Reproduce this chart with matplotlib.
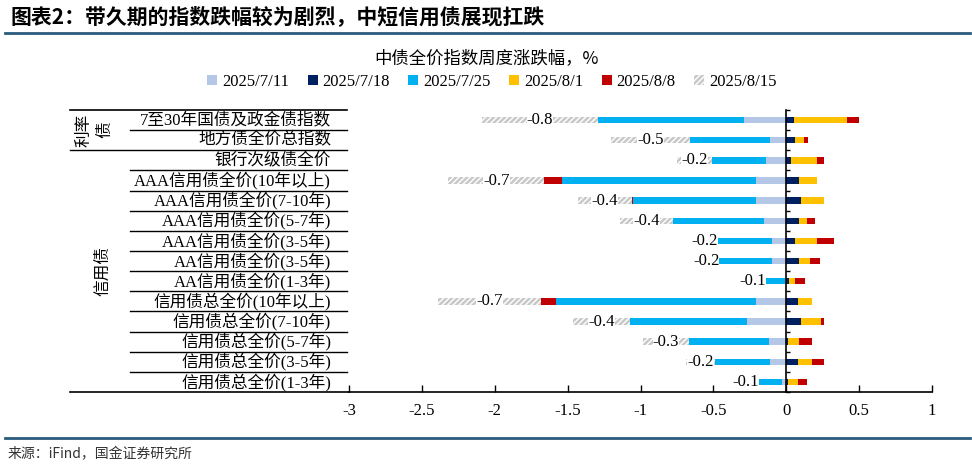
import matplotlib
matplotlib.use('Agg')
import matplotlib.pyplot as plt
import matplotlib.transforms as mtrans
import numpy as np

plt.rcParams['font.family'] = ['Liberation Serif', 'Noto Sans CJK SC']
plt.rcParams['axes.unicode_minus'] = False
plt.rcParams['hatch.linewidth'] = 1.8

# categories, top to bottom
cats = ['7至30年国债及政金债指数', '地方债全价总指数', '银行次级债全价',
        'AAA信用债全价(10年以上)', 'AAA信用债全价(7-10年)', 'AAA信用债全价(5-7年)',
        'AAA信用债全价(3-5年)', 'AA信用债全价(3-5年)', 'AA信用债全价(1-3年)',
        '信用债总全价(10年以上)', '信用债总全价(7-10年)', '信用债总全价(5-7年)',
        '信用债总全价(3-5年)', '信用债总全价(1-3年)']
groups = ['利率\n债', '信用债']
group_rows = [(0, 1), (2, 13)]

weeks = ['2025/7/11', '2025/7/18', '2025/7/25', '2025/8/1', '2025/8/8', '2025/8/15']
w0711 = [-0.29, -0.11, -0.14, -0.21, -0.21, -0.15, -0.10, -0.10, -0.01, -0.21, -0.27, -0.12, -0.11, -0.03]
w0718 = [0.05, 0.06, 0.03, 0.09, 0.10, 0.09, 0.06, 0.09, 0.02, 0.08, 0.10, 0.01, 0.08, 0.01]
w0725 = [-1.00, -0.55, -0.37, -1.33, -0.84, -0.63, -0.37, -0.36, -0.15, -1.37, -0.80, -0.55, -0.38, -0.21]
w0801 = [0.37, 0.06, 0.18, 0.12, 0.16, 0.05, 0.15, 0.07, 0.04, 0.10, 0.14, 0.08, 0.10, 0.07]
w0808 = [0.08, 0.03, 0.05, -0.12, -0.01, 0.06, 0.12, 0.07, 0.07, -0.10, 0.02, 0.09, 0.08, 0.06]
w0815 = [-0.80, -0.54, -0.24, -0.66, -0.37, -0.36, -0.18, -0.18, -0.14, -0.71, -0.39, -0.31, -0.20, -0.08]

series = [w0711, w0718, w0725, w0801, w0808, w0815]
colors = ['#B4C7E7', '#002060', '#00B0F0', '#FFC000', '#C00000', 'white']

fig = plt.figure(figsize=(9.72, 4.67), dpi=100)
W, H = 972, 467
ax = fig.add_axes([349 / W, 1 - 392 / H, 583 / W, 282 / H])

y = np.arange(len(cats))
pos = np.zeros(len(cats))
neg = np.zeros(len(cats))
bh = 0.32
for i, (vals, c, lab) in enumerate(zip(series, colors, weeks)):
    v = np.array(vals)
    left = np.where(v >= 0, pos, neg)
    if i == 5:
        # last week: hatched bars with value labels
        bars = ax.barh(y, v, left=left, height=bh, color='white', edgecolor='#C8C8C8',
                       hatch='//////', linewidth=0, label=lab)
        txts = ax.bar_label(bars, fmt='%.1f', label_type='center', fontsize=12)
        for t in txts:
            t.set_bbox(dict(facecolor='white', edgecolor='none', pad=0.1))
    else:
        ax.barh(y, v, left=left, height=bh, color=c, linewidth=0, label=lab)
    pos = pos + np.where(v >= 0, v, 0)
    neg = neg + np.where(v < 0, v, 0)

ax.set_xlim(-3, 1)
ax.set_ylim(len(cats) - 0.5, -0.5)
ax.set_xticks(np.arange(-3, 1.01, 0.5))
ax.set_xticklabels([f'{v:g}' for v in np.arange(-3, 1.01, 0.5)], fontsize=12)
ax.set_yticks(np.arange(-0.5, len(cats), 1))
ax.set_yticklabels([])
ax.tick_params(axis='x', direction='in', length=5, width=1, pad=8)
ax.tick_params(axis='y', direction='in', length=3, width=1)
ax.spines['left'].set_position(('data', 0))
ax.spines['top'].set_visible(False)
ax.spines['right'].set_visible(False)
ax.spines['left'].set_linewidth(1.2)
ax.spines['bottom'].set_linewidth(1.2)

# table on the left
tr = mtrans.blended_transform_factory(fig.transFigure, ax.transData)
for i, name in enumerate(cats):
    ax.text(331 / W, i, name, transform=tr, ha='right', va='center', fontsize=12)
for b in np.arange(0.5, len(cats) - 1, 1):
    x0 = 70 / W if b == 1.5 else 130 / W
    ax.plot([x0, 347 / W], [b, b], transform=tr, color='black', lw=1, clip_on=False)
ax.plot([70 / W, 347 / W], [-0.5, -0.5], transform=tr, color='black', lw=1.2, clip_on=False)
ax.plot([70 / W, 349 / W], [13.5, 13.5], transform=tr, color='black', lw=1.2, clip_on=False)
gx = [95 / W, 103 / W]
for g, (r0, r1), xg in zip(groups, group_rows, gx):
    ax.text(xg, (r0 + r1) / 2, g, transform=tr, rotation=90, ha='center', va='center',
            fontsize=12, linespacing=1.4, multialignment='center')

# titles, legend, source
fig.text(10 / W, 1 - 17 / H, '图表2：带久期的指数跌幅较为剧烈，中短信用债展现扛跌',
         fontsize=15, fontweight='bold', family=['Noto Sans CJK SC'], va='center')
fig.add_artist(plt.Line2D([5 / W, 970 / W], [1 - 33 / H, 1 - 33 / H], color='#2B5C7C', lw=2))
fig.add_artist(plt.Line2D([5 / W, 970 / W], [1 - 438 / H, 1 - 438 / H], color='#2B5C7C', lw=2))
fig.text(486 / W, 1 - 58 / H, '中债全价指数周度涨跌幅，%', fontsize=12.5,
         family=['Noto Sans CJK SC'], ha='center', va='center')
fig.legend(loc='center', bbox_to_anchor=(492 / W, 1 - 82 / H), ncol=6, frameon=False,
           fontsize=12, handlelength=0.6, handleheight=0.6, handletextpad=0.3,
           columnspacing=1.1)
fig.text(8 / W, 1 - 454 / H, '来源：iFind，国金证券研究所', fontsize=10, color='#333333',
         family=['Noto Sans CJK SC'], va='center')

fig.savefig('out.png', dpi=100)
